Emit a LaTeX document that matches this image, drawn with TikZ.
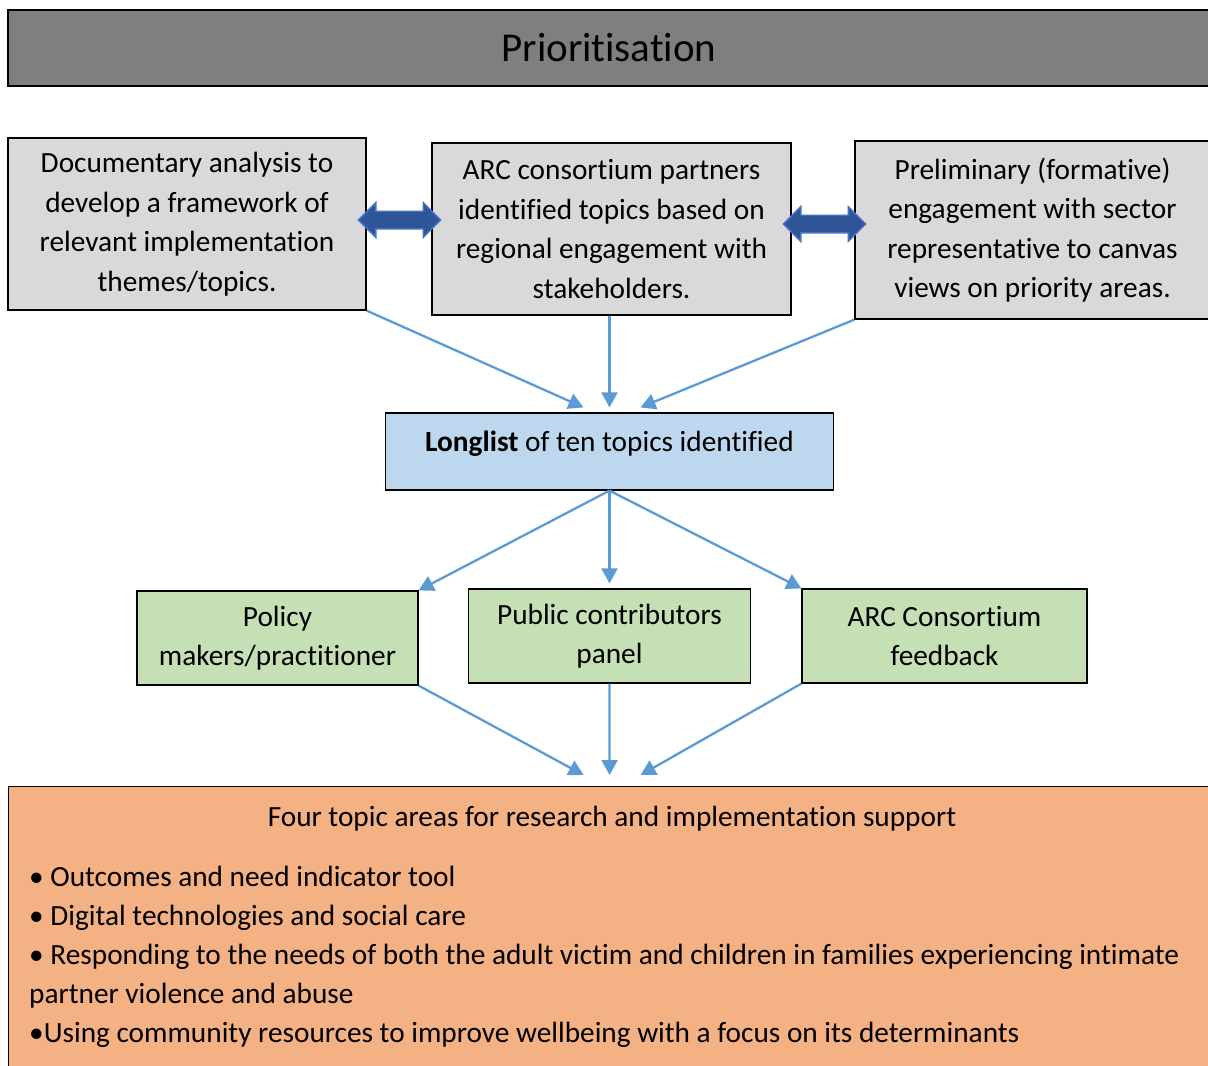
\documentclass[tikz,border=0pt]{standalone}
\usepackage{fontspec}
\setmainfont{Carlito}[Ligatures=NoCommon]
\usetikzlibrary{arrows.meta,positioning,shapes.arrows}
\definecolor{headgray}{HTML}{7F7F7F}
\definecolor{boxgray}{HTML}{D9D9D9}
\definecolor{boxblue}{HTML}{BDD7EE}
\definecolor{boxgreen}{HTML}{C5E0B4}
\definecolor{boxorange}{HTML}{F4B183}
\definecolor{lineblue}{HTML}{5B9BD5}
\definecolor{linkfill}{HTML}{2F5597}
\definecolor{linkedge}{HTML}{4472C4}
\tikzset{
    box/.style={rectangle,draw=black,line width=1.2pt,inner sep=0pt,align=center,
        font=\fontsize{29.3}{39.5}\selectfont},
    source/.style={box,fill=boxgray,minimum height=172pt},
    review/.style={box,fill=boxgreen,minimum height=94pt},
    flow/.style={-{Triangle[length=15pt,width=16pt]},line width=2.3pt,draw=lineblue},
    link/.style={double arrow,draw=linkedge,fill=linkfill,line width=1.5pt,inner sep=0pt,
        text height=8pt,text depth=8pt,minimum height=82pt,double arrow head extend=8.5pt}
}

\begin{document}
\begin{tikzpicture}[x=1pt,y=-1pt]

    \useasboundingbox (0,0) rectangle (1208,1066);

    \node[box,fill=headgray,minimum width=1202pt,minimum height=76pt,
          font=\fontsize{41}{44}\selectfont] (title) at (609,48) {Prioritisation};

    % three sources of topics
    \node[source,minimum width=358pt] (doc)    at (187,224)
        {Documentary analysis to\\develop a framework of\\relevant implementation\\themes/topics.};
    \node[source,minimum width=359pt] (arc)    at (611.5,229)
        {ARC consortium partners\\identified topics based on\\regional engagement with\\stakeholders.};
    \node[source,minimum width=355pt,minimum height=178pt] (prelim) at (1032.5,230)
        {Preliminary (formative)\\engagement with sector\\representative to canvas\\views on priority areas.};

    \node[link] (docarc)    at (399.5,220) {};
    \node[link] (arcprelim) at (824.5,224) {};

    \node[box,fill=boxblue,minimum width=448pt,text height=38pt,text depth=39pt] (longlist) at (609.5,451.5)
        {\textbf{Longlist} of ten topics identified};

    \coordinate[above left=5pt and 26pt of longlist.north]  (inA);
    \coordinate[above=5pt of longlist.north]                (inB);
    \coordinate[above right=5pt and 31pt of longlist.north] (inC);

    \draw[flow] (doc.south east)    -- (inA);
    \draw[flow] (arc.south -| inB)  -- (inB);
    \draw[flow] (prelim.south west) -- (inC);

    % review of the longlist
    \node[review,minimum width=281pt] (policy) at (277.5,638) {Policy\\makers/practitioner};
    \node[review,minimum width=282pt] (public) at (609.5,636) {Public contributors\\panel};
    \node[review,minimum width=285pt] (arcfb)  at (944.5,636) {ARC Consortium\\feedback};

    \coordinate[above=5pt of public.north] (inPublic);

    \draw[flow] (longlist.south) -- (policy.north east);
    \draw[flow] (longlist.south) -- (inPublic);
    \draw[flow] (longlist.south) -- (arcfb.north west);

    % final topic areas
    \node[box,fill=boxorange,minimum width=1202pt,minimum height=290pt,anchor=north west] (topics) at (8,786) {};
    \node[anchor=base,font=\fontsize{29.3}{39}\selectfont] (topicshead) at (612,826)
        {Four topic areas for research and implementation support};
    \node[anchor=north west,inner sep=0pt,align=left,font=\fontsize{29.3}{39}\selectfont] (topiclist) at (29,866)
        {• Outcomes and need indicator tool\\
         • Digital technologies and social care\\
         • Responding to the needs of both the adult victim and children in families experiencing intimate\\
         partner violence and abuse\\
         •Using community resources to improve wellbeing with a focus on its determinants};

    \coordinate[above left=11pt and 26pt of topics.north]  (outA);
    \coordinate[above=11pt of topics.north]                (outB);
    \coordinate[above right=11pt and 31pt of topics.north] (outC);

    \draw[flow] (policy.south east) -- (outA);
    \draw[flow] (public.south)      -- (outB);
    \draw[flow] (arcfb.south west)  -- (outC);

\end{tikzpicture}
\end{document}
